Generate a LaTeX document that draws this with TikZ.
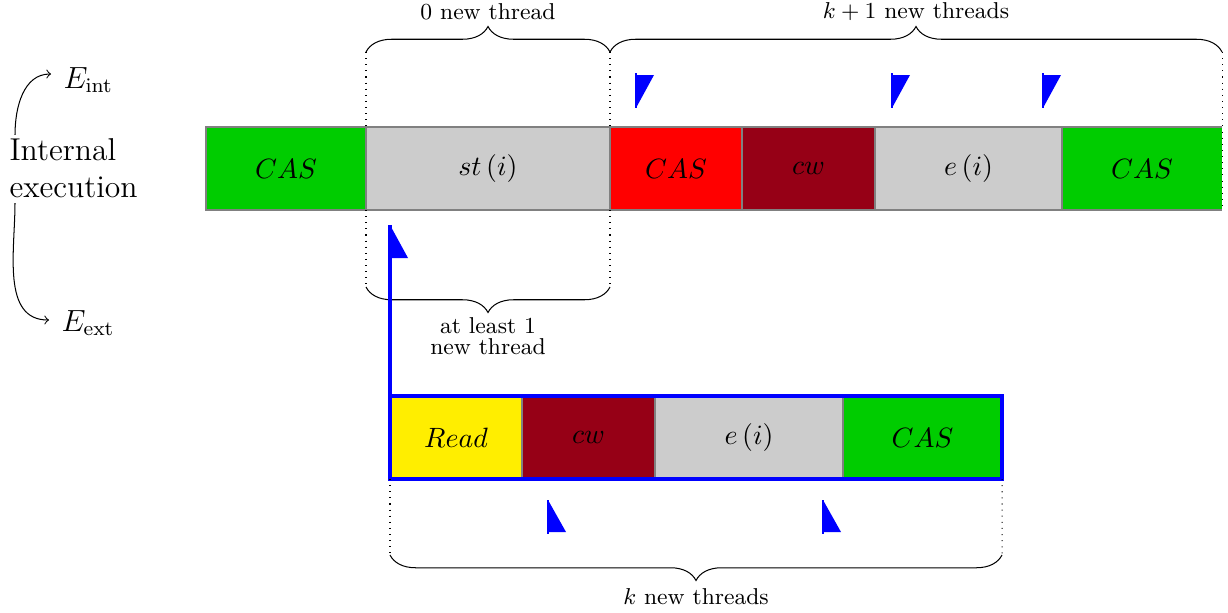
\documentclass[tikz,border=0pt]{standalone}
\usetikzlibrary{decorations.pathreplacing,fit,calc}
\definecolor{cgreen}{RGB}{0,204,0}
\definecolor{cdred}{RGB}{150,0,22}
\definecolor{cyellow}{RGB}{255,238,0}
\definecolor{cgray}{RGB}{204,204,204}
\begin{document}
\begin{tikzpicture}[x=0.39216pt,y=-0.39216pt,
  box/.style={draw=gray, line width=0.5pt, inner sep=0pt, outer sep=0pt, minimum height=83*0.39216pt, anchor=west, font=\fontsize{11}{13}\selectfont},
  bracedec/.style={decorate, decoration={brace, amplitude=10pt}},
  bracelbl/.style={font=\small, align=center, inner sep=0pt},
  guide/.style={dotted, line width=0.4pt},
  flagpole/.style={draw=blue, line width=0.8pt},
  flagfill/.style={fill=blue}]
\useasboundingbox (0,0) rectangle (1228,612);

% top row
\node[box, fill=cgreen, minimum width=160*0.39216pt] (c1) at (206,168.5) {$CAS$};
\node[box, fill=cgray, minimum width=244*0.39216pt] (st) at (366,168.5) {$st\left(i\right)$};
\node[box, fill=red, minimum width=132*0.39216pt] (c2) at (610,168.5) {$CAS$};
\node[box, fill=cdred, minimum width=133*0.39216pt] (cw1) at (742,168.5) {$cw$};
\node[box, fill=cgray, minimum width=187*0.39216pt] (e1) at (875,168.5) {$e\left(i\right)$};
\node[box, fill=cgreen, draw=none, minimum width=160*0.39216pt] (c3) at (1062,168.5) {$CAS$};
\draw[gray, line width=0.5pt] (c3.north east) -- (c3.north west) -- (c3.south west) -- (c3.south east);

% bottom row
\node[box, fill=cyellow, minimum width=132*0.39216pt] (rd) at (390,437.5) {$Read$};
\node[box, fill=cdred, minimum width=133*0.39216pt] (cw2) at (522,437.5) {$cw$};
\node[box, fill=cgray, minimum width=188*0.39216pt] (e2) at (655,437.5) {$e\left(i\right)$};
\node[box, fill=cgreen, minimum width=159*0.39216pt] (c4) at (843,437.5) {$CAS$};
\node[fit=(rd)(c4), draw=blue, line width=1.2pt, inner sep=0pt, outer sep=0pt] (ext) {};

% guides (dotted)
\coordinate (g1) at (366,52);
\coordinate (g2) at (610,52);
\coordinate (g3) at (1222,52);
\coordinate (g4) at (366,287);
\coordinate (g5) at (610,287);
\coordinate (g6) at (390,555);
\coordinate (g7) at (1002,555);
\draw[guide] (g1) -- (st.north west);
\draw[guide] (g2) -- (st.north east);
\draw[guide] (g3) -- (c3.south east);
\draw[guide] (st.south west) -- (g4);
\draw[guide] (st.south east) -- (g5);
\draw[guide] (ext.south west) -- (g6);
\draw[guide] (ext.south east) -- (g7);

% braces
\draw[bracedec] (g1) -- (g2);
\draw[bracedec] (g2) -- (g3);
\draw[bracedec] (g5) -- (g4);
\draw[bracedec] (g7) -- (g6);
\node[bracelbl] (l1) at (488,12) {0 new thread};
\node[bracelbl] (l2) at (916,12) {$k+1$ new threads};
\node[bracelbl, font=\fontsize{9}{8.4}\selectfont] (l3) at (488,336) {at least 1\\new thread};
\node[bracelbl] (l4) at (696,597) {$k$ new threads};

% flags upper
\foreach \fx in {636,892,1043}{
  \fill[flagfill] (\fx,75) -- (\fx+18,75) -- (\fx,108) -- cycle;
  \draw[flagpole] (\fx,73) -- (\fx,108);
}
% flags lower
\foreach \fx in {548,823}{
  \fill[flagfill] (\fx,500) -- (\fx,532) -- (\fx+18,532) -- cycle;
  \draw[flagpole] (\fx,500) -- (\fx,534);
}
% flag joined to external execution
\coordinate (f0) at (390,225);
\fill[flagfill] (f0) -- (390,258) -- (408,258) -- cycle;
\draw[blue, line width=1.2pt] (f0) -- (ext.north west);

% left labels
\node[font=\fontsize{12.4}{14.5}\selectfont, align=left, inner sep=0pt, anchor=west] (ie) at (9,168) {Internal\\execution};
\node[font=\large, inner sep=0pt, anchor=west] (eint) at (63,80) {$E_{\mathrm{int}}$};
\node[font=\large, inner sep=0pt, anchor=west] (eext) at (61,323) {$E_{\mathrm{ext}}$};
\draw[->] ($(ie.north west)+(6,-3)$) to[out=90,in=180] ($(eint.west)+(-12,-6)$);
\draw[->] ($(ie.south west)+(6,5)$) to[out=-90,in=180] ($(eext.west)+(-12,-3)$);
\end{tikzpicture}
\end{document}
